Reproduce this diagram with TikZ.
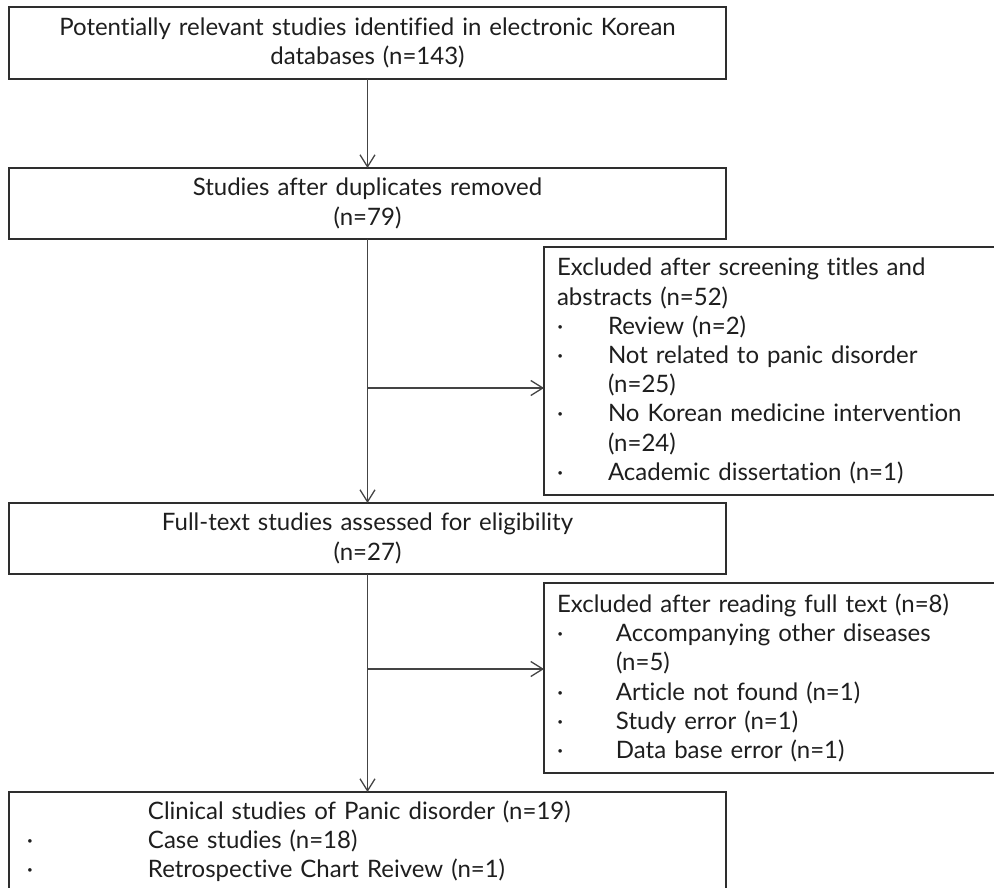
\documentclass[tikz,border=0pt]{standalone}
\usepackage{fontspec}
\setmainfont[Ligatures={NoCommon,NoRequired,NoContextual}]{Lato}
\usetikzlibrary{arrows.meta}
\definecolor{edgecol}{HTML}{2E2E2E}
\definecolor{wirecol}{HTML}{444444}
\definecolor{inkcol}{HTML}{1E1E1E}
\newcommand\dotitem[1]{\makebox[#1][l]{\textperiodcentered}}
\begin{document}
\begin{tikzpicture}[x=1pt,y=-1pt,
  box/.style={draw=edgecol, line width=2pt, anchor=north west, inner sep=0pt, outer sep=0pt,
    text=inkcol, font=\fontsize{24}{29.2}\selectfont},
  cbox/.style={box, align=center, text width=717pt, minimum width=717pt},
  lbox/.style={box, align=left, inner xsep=13pt, text width=444pt},
  flow/.style={draw=wirecol, line width=1.3pt, -{Straight Barb[length=12pt,width=15pt]}}]
\useasboundingbox (0,0) rectangle (994,888);
\clip (0,0) rectangle (994,888);

\node[cbox, minimum height=72pt] (b1) at (9,7)
  {Potentially relevant studies identified in electronic Korean\\databases (n=143)};
\node[cbox, minimum height=71pt] (b2) at (9,168)
  {Studies after duplicates removed\\(n=79)};
\node[lbox, minimum height=248pt] (e1) at (544,247)
  {Excluded after screening titles and\\
   abstracts (n=52)\\
   \dotitem{51pt}Review (n=2)\\
   \dotitem{51pt}Not related to panic disorder\\
   \hspace*{51pt}(n=25)\\
   \dotitem{51pt}No Korean medicine intervention\\
   \hspace*{51pt}(n=24)\\
   \dotitem{51pt}Academic dissertation (n=1)};
\node[cbox, minimum height=71pt] (b4) at (9,503)
  {Full-text studies assessed for eligibility\\(n=27)};
\node[lbox, minimum height=190pt] (e2) at (544,583)
  {Excluded after reading full text (n=8)\\
   \dotitem{59pt}Accompanying other diseases\\
   \hspace*{59pt}(n=5)\\
   \dotitem{59pt}Article not found (n=1)\\
   \dotitem{59pt}Study error (n=1)\\
   \dotitem{59pt}Data base error (n=1)};
\node[box, align=left, inner xsep=18pt, text width=681pt, minimum height=98pt] (b6) at (9,792)
  {\hspace*{121pt}Clinical studies of Panic disorder (n=19)\\
   \dotitem{121pt}Case studies (n=18)\\
   \dotitem{121pt}Retrospective Chart Reivew (n=1)};

\draw[flow] (b1) -- (b2);
\draw[flow] (b2) -- (b4);
\coordinate (j1) at (b2.south |- 0,388);
\draw[flow] (j1) -- (j1 -| e1.west);
\draw[flow] (b4) -- (b6);
\coordinate (j2) at (b4.south |- 0,669);
\draw[flow] (j2) -- (j2 -| e2.west);
\end{tikzpicture}
\end{document}
